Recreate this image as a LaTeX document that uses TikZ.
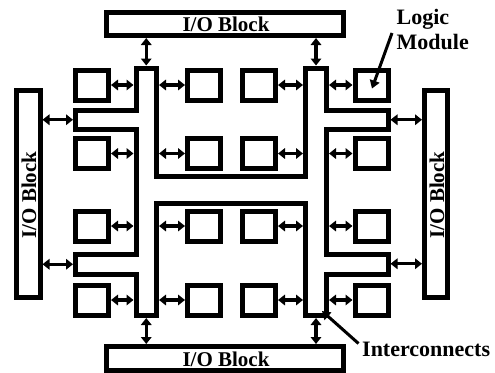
\documentclass[tikz,border=0pt]{standalone}
\usepackage{fontspec}
\setmainfont{Liberation Serif}
\usetikzlibrary{arrows.meta}
\tikzset{
  thick line/.style={line width=5pt, line join=miter},
  module/.style={draw, thick line, minimum width=33pt, minimum height=30pt, inner sep=0pt},
  iob/.style={draw, thick line, inner sep=0pt},
  lbl/.style={font=\bfseries\fontsize{21}{24}\selectfont, inner sep=0pt},
  biglbl/.style={font=\bfseries\fontsize{22}{25}\selectfont, inner sep=0pt, align=left},
  dbl/.style={line width=3.2pt, {Triangle[length=7pt,width=10.5pt]}-{Triangle[length=7pt,width=10.5pt]}},
  pointer/.style={line width=3pt, -{Triangle[length=8pt,width=10pt]}}
}
\begin{document}
\begin{tikzpicture}[x=1pt,y=-1pt]
\useasboundingbox (0,0) rectangle (495,372);

% I/O blocks
\node[iob, minimum width=236.5pt, minimum height=23.5pt] (ioT) at (224.75,23.75) {};
\node[iob, minimum width=236.5pt, minimum height=23.5pt] (ioB) at (224.75,358.25) {};
\node[iob, minimum width=24pt, minimum height=206.5pt] (ioL) at (28,193.75) {};
\node[iob, minimum width=23pt, minimum height=207pt] (ioR) at (436,193.5) {};
\node[lbl] (tT) at (226,24.5) {I/O Block};
\node[lbl] (tB) at (226,359.5) {I/O Block};
\node[lbl, rotate=90] (tL) at (29,195) {I/O Block};
\node[lbl, rotate=90] (tR) at (437,195) {I/O Block};

% Interconnect outline
\draw[thick line]
  (136,68) -- (156.5,68) -- (156.5,176.5) -- (305.5,176.5) -- (305.5,68)
  -- (326.5,68) -- (326.5,110) -- (388,110) -- (388,129.5) -- (326.5,129.5)
  -- (326.5,254.5) -- (388,254.5) -- (388,274) -- (326.5,274)
  -- (326.5,315.5) -- (305.5,315.5) -- (305.5,203) -- (156.5,203)
  -- (156.5,315.5) -- (136,315.5) -- (136,274) -- (75.5,274) -- (75.5,254.5)
  -- (136,254.5) -- (136,129.5) -- (75.5,129.5) -- (75.5,110) -- (136,110)
  -- cycle;

% invisible reference nodes on the interconnect (outer edges)
\node[inner sep=0pt, outer sep=0pt, minimum width=25.5pt, minimum height=252.5pt] (barL) at (146.25,191.75) {};
\node[inner sep=0pt, outer sep=0pt, minimum width=26pt, minimum height=252.5pt] (barR) at (316,191.75) {};
\node[inner sep=0pt, outer sep=0pt, minimum width=63.5pt, minimum height=24.5pt] (stLa) at (104.75,119.75) {};
\node[inner sep=0pt, outer sep=0pt, minimum width=63.5pt, minimum height=24.5pt] (stLb) at (104.75,264.25) {};
\node[inner sep=0pt, outer sep=0pt, minimum width=66.5pt, minimum height=24.5pt] (stRa) at (357.25,119.75) {};
\node[inner sep=0pt, outer sep=0pt, minimum width=66.5pt, minimum height=24.5pt] (stRb) at (357.25,263.75) {};

% Logic modules
\foreach \c/\x in {1/92,2/204,3/259,4/371.5}{
  \foreach \r/\y in {1/85,2/153.5,3/226,4/300}{
    \node[module] (m\c\r) at (\x,\y) {};
  }
}

% module <-> interconnect arrows
\foreach \r in {1,2,3,4}{
  \draw[dbl] (m1\r.east) -- (m1\r.east -| barL.west);
  \draw[dbl] (m2\r.west) -- (m2\r.west -| barL.east);
  \draw[dbl] (m3\r.east) -- (m3\r.east -| barR.west);
  \draw[dbl] (m4\r.west) -- (m4\r.west -| barR.east);
}

% I/O <-> interconnect arrows
\draw[dbl] (ioT.south -| barL.center) -- (barL.north);
\draw[dbl] (ioT.south -| barR.center) -- (barR.north);
\draw[dbl] (ioB.north -| barL.center) -- (barL.south);
\draw[dbl] (ioB.north -| barR.center) -- (barR.south);
\draw[dbl] (ioL.east |- stLa.west) -- (stLa.west);
\draw[dbl] (ioL.east |- stLb.west) -- (stLb.west);
\draw[dbl] (stRa.east) -- (stRa.east -| ioR.west);
\draw[dbl] (stRb.east) -- (stRb.east -| ioR.west);

% labels
\node[biglbl, anchor=north west] (lm) at (396.5,9) {Logic\\Module};
\node[biglbl, anchor=north west] (ic) at (362,341.5) {Interconnects};
\coordinate (lmtail) at (392,33);
\coordinate (lmtip) at (372,88.5);
\coordinate (ictail) at (358.5,343.5);
\coordinate (ictip) at (322,311);
\draw[pointer] (lmtail) -- (lmtip);
\draw[pointer] (ictail) -- (ictip);
\end{tikzpicture}
\end{document}
